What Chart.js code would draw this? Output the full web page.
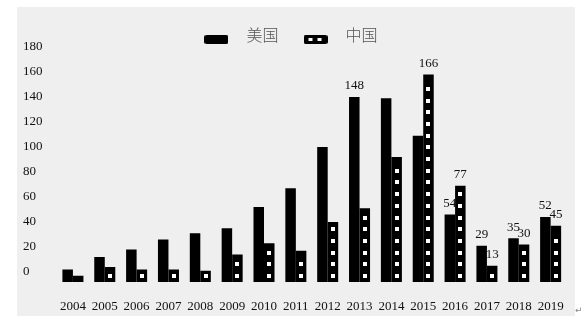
<!DOCTYPE html>
<html>
<head>
<meta charset="utf-8">
<script src="https://cdn.jsdelivr.net/npm/chart.js@4/dist/chart.umd.min.js"></script>
<style>
  html, body { margin: 0; padding: 0; background: #fff; }
  #wrap { position: relative; width: 581px; height: 316px; overflow: hidden; }
  #bg { position: absolute; left: 17px; top: 7px; width: 558px; height: 309px; background: #efefef; }
  #chart { position: absolute; left: 0; top: 0; }
  #mark { position: absolute; left: 575px; top: 305px; font: 9px "DejaVu Sans"; color: #888; }
</style>
</head>
<body>
<div id="wrap">
  <div id="bg"></div>
  <canvas id="chart" width="581" height="316"></canvas>
  <span id="mark">↵</span>
</div>
<script>
const years = ['2004', '2005', '2006', '2007', '2008', '2009', '2010', '2011',
               '2012', '2013', '2014', '2015', '2016', '2017', '2018', '2019'];
const usValues = [10, 20, 26, 34, 39, 43, 60, 75, 108, 148, 147, 117, 54, 29, 35, 52];
const cnValues = [5, 12, 10, 10, 9, 22, 31, 25, 48, 59, 100, 166, 77, 13, 30, 45];
// which bars carry a number on top
const usLabeled = [9, 12, 13, 14, 15];
const cnLabeled = [11, 12, 13, 14, 15];
const yTicks = [0, 20, 40, 60, 80, 100, 120, 140, 160, 180];

const serif = '"Liberation Serif", "DejaVu Serif", serif';

// legend swatches (drawn a bit below the text centre, like the original)
function makeIcon(dotted) {
    const c = document.createElement('canvas');
    c.width = 24;
    c.height = 18;
    const g = c.getContext('2d');
    g.fillStyle = '#000';
    g.beginPath();
    g.roundRect(0, 9, 24, 9, 2);
    g.fill();
    if (dotted) {
        g.fillStyle = '#fff';
        g.fillRect(5, 12, 4, 3);
        g.fillRect(14, 12, 4, 3);
    }
    return c;
}
const legendIcons = [makeIcon(false), makeIcon(true)];

const dotPlugin = {
    id: 'dots',
    afterDatasetsDraw(chart) {
        const ctx = chart.ctx;
        const meta = chart.getDatasetMeta(1);
        ctx.save();
        ctx.fillStyle = '#fff';
        meta.data.forEach((bar) => {
            const { x, y, base } = bar.getProps(['x', 'y', 'base'], true);
            for (let cy = base - 6; cy - 2 > y + 3; cy -= 11.7) {
                ctx.fillRect(Math.round(x - 2), Math.round(cy - 2), 4, 4);
            }
        });
        ctx.restore();
    }
};

const valueLabelPlugin = {
    id: 'valueLabels',
    afterDatasetsDraw(chart) {
        const ctx = chart.ctx;
        ctx.save();
        ctx.font = '13px ' + serif;
        ctx.fillStyle = '#111';
        ctx.textAlign = 'center';
        ctx.textBaseline = 'middle';
        [usLabeled, cnLabeled].forEach((idxList, ds) => {
            const meta = chart.getDatasetMeta(ds);
            const values = chart.data.datasets[ds].data;
            idxList.forEach((i) => {
                const bar = meta.data[i];
                ctx.fillText(String(values[i]), bar.x, bar.y - 11);
            });
        });
        ctx.restore();
    }
};

// nudge the legend so it sits where the original has it
const legendShift = {
    id: 'legendShift',
    afterLayout(chart) {
        const lg = chart.legend;
        lg.left -= 10;
        lg.right -= 10;
        lg.top -= 4;
        lg.bottom -= 4;
    }
};

const ctx = document.getElementById('chart').getContext('2d');
new Chart(ctx, {
    type: 'bar',
    data: {
        labels: years,
        datasets: [
            { label: '美国', data: usValues, backgroundColor: '#000' },
            { label: '中国', data: cnValues, backgroundColor: '#000' }
        ]
    },
    options: {
        responsive: false,
        animation: false,
        devicePixelRatio: 1,
        categoryPercentage: 0.66,
        barPercentage: 1.0,
        layout: { padding: { left: 23, right: 12, top: 16, bottom: 0 } },
        plugins: {
            tooltip: { enabled: false },
            legend: {
                position: 'top',
                labels: {
                    usePointStyle: true,
                    pointStyleWidth: 44,
                    padding: 15,
                    color: '#555',
                    font: { family: '"Noto Sans CJK SC"', size: 16, weight: 300 },
                    generateLabels(chart) {
                        const items = Chart.defaults.plugins.legend.labels.generateLabels(chart);
                        items.forEach((it, i) => { it.pointStyle = legendIcons[i]; });
                        return items;
                    }
                }
            }
        },
        scales: {
            x: {
                grid: { display: false, drawTicks: false },
                border: { display: false },
                ticks: { font: { family: serif, size: 13 }, color: '#111', padding: 17, maxRotation: 0 },
                afterFit(scale) { scale.height = 34; }
            },
            y: {
                min: 0,
                max: 180,
                grid: { display: false, drawTicks: false },
                border: { display: false },
                afterBuildTicks(scale) { scale.ticks = yTicks.map(v => ({ value: v })); },
                ticks: {
                    font: { family: serif, size: 13 },
                    color: '#111',
                    crossAlign: 'far',
                    labelOffset: -10
                },
                afterFit(scale) { scale.width = 34; }
            }
        }
    },
    plugins: [dotPlugin, valueLabelPlugin, legendShift]
});
</script>
</body>
</html>
